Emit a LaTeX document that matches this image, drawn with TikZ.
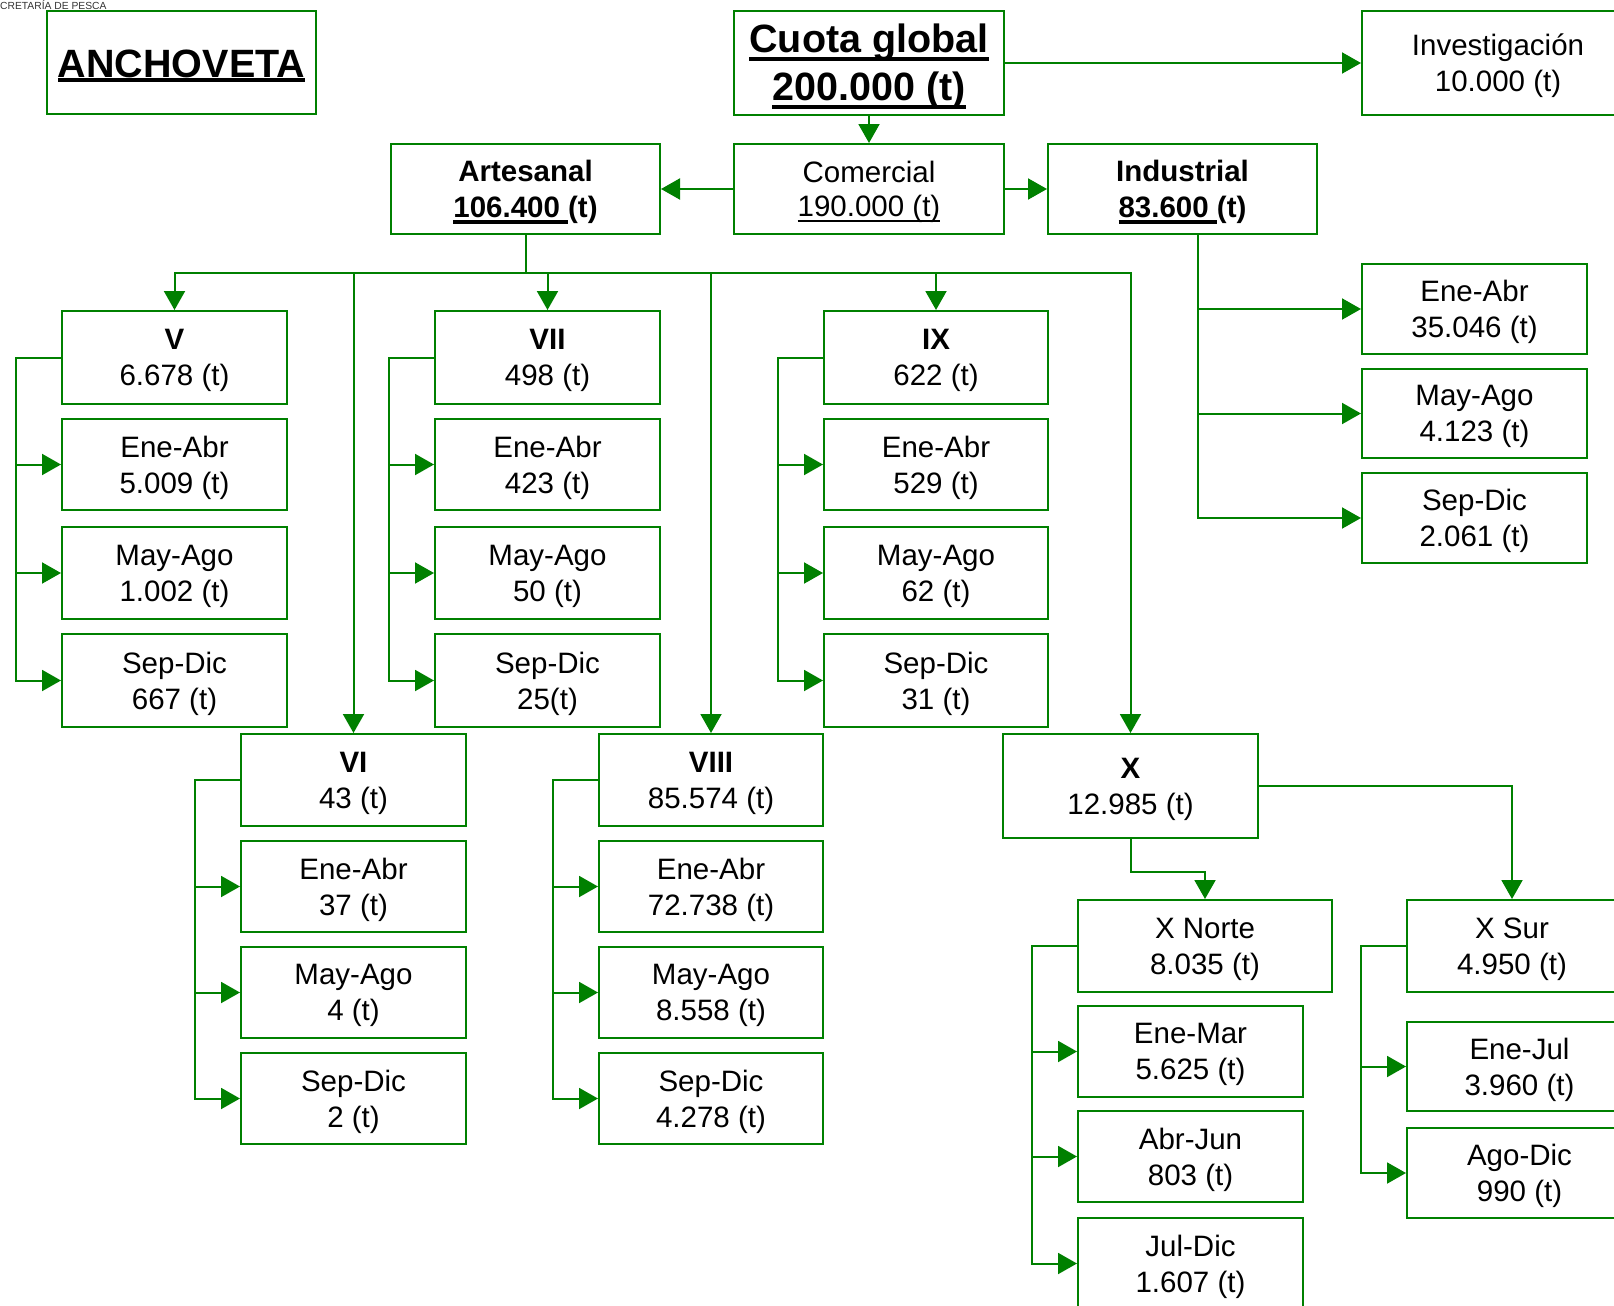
\documentclass[tikz,border=0pt]{standalone}
\usepackage{fontspec}
\setmainfont{Liberation Sans}
\usetikzlibrary{arrows.meta}
\definecolor{gr}{RGB}{0,128,0}
\newcommand\myul[3]{\setbox0\hbox{#3}\rlap{\rule[-#1pt]{\wd0}{#2pt}}\box0}
\tikzset{
  box/.style={draw=gr, line width=2pt, inner sep=0pt},
  txt/.style={inner sep=0pt, align=center, text=black, font=\fontsize{29.5}{36}\selectfont},
  big/.style={font=\fontsize{39.5}{48}\selectfont\bfseries},
  arr/.style={draw=gr, line width=2pt, -{Triangle[length=19pt,width=21pt]}},
  ln/.style={draw=gr, line width=2pt},
}
\newcommand\mybox[7]{%
  \node[box,minimum width={#5-#3},minimum height={#6-#4}] (#1) at ({(#3+#5)/2},{(#4+#6)/2}) {};
  \node[txt,#2] (#1-t) at ([yshift=-3pt]#1.center) {#7};}
\begin{document}
\begin{tikzpicture}[x=1pt,y=-1pt]
\useasboundingbox (0,0) rectangle (1614,1306);
\clip (0,0) rectangle (1614,1306);
\fill[white] (0,0) rectangle (1614,1306);
\node[anchor=base west, inner sep=0pt, text=black!80, font=\fontsize{10.3}{11}\selectfont] (sec) at (0,9.5) {CRETARÍA DE PESCA};
% top row
\mybox{anch}{big}{47}{11}{316}{114}{\myul{4.5}{4}{ANCHOVETA}}
\mybox{cuota}{big}{734}{11}{1004}{115}{\myul{8.5}{3.8}{Cuota global}\\\myul{8.5}{3.8}{200.000 (t)}}
\mybox{inv}{}{1362}{11}{1634}{115}{Investigación\\10.000 (t)}
% second row
\mybox{art}{}{391}{144}{660}{234}{\textbf{Artesanal}\\\textbf{\myul{6.5}{4}{106.400\ }(t)}}
\mybox{com}{font=\fontsize{29.5}{34}\selectfont}{734}{144}{1004}{234}{Comercial\\\myul{5.5}{2}{190.000 (t)}}
\mybox{ind}{}{1048}{144}{1317}{234}{\textbf{Industrial}\\\textbf{\myul{6.5}{4}{83.600\ }(t)}}
% industrial subs
\mybox{ia}{}{1362}{264}{1587}{354}{Ene-Abr\\35.046 (t)}
\mybox{ib}{}{1362}{369}{1587}{458}{May-Ago\\4.123 (t)}
\mybox{ic}{}{1362}{473}{1587}{563}{Sep-Dic\\2.061 (t)}
% V column
\mybox{nV}{}{62}{311}{287}{404}{\textbf{V}\\6.678 (t)}
\mybox{nVa}{}{62}{419}{287}{510}{Ene-Abr\\5.009 (t)}
\mybox{nVb}{}{62}{527}{287}{619}{May-Ago\\1.002 (t)}
\mybox{nVc}{}{62}{634}{287}{727}{Sep-Dic\\667 (t)}
% VII column
\mybox{nVII}{}{435}{311}{660}{404}{\textbf{VII}\\498 (t)}
\mybox{nVIIa}{}{435}{419}{660}{510}{Ene-Abr\\423 (t)}
\mybox{nVIIb}{}{435}{527}{660}{619}{May-Ago\\50 (t)}
\mybox{nVIIc}{}{435}{634}{660}{727}{Sep-Dic\\25(t)}
% IX column
\mybox{nIX}{}{824}{311}{1048}{404}{\textbf{IX}\\622 (t)}
\mybox{nIXa}{}{824}{419}{1048}{510}{Ene-Abr\\529 (t)}
\mybox{nIXb}{}{824}{527}{1048}{619}{May-Ago\\62 (t)}
\mybox{nIXc}{}{824}{634}{1048}{727}{Sep-Dic\\31 (t)}
% VI column
\mybox{nVI}{}{241}{734}{466}{826}{\textbf{VI}\\43 (t)}
\mybox{nVIa}{}{241}{841}{466}{932}{Ene-Abr\\37 (t)}
\mybox{nVIb}{}{241}{947}{466}{1038}{May-Ago\\4 (t)}
\mybox{nVIc}{}{241}{1053}{466}{1144}{Sep-Dic\\2 (t)}
% VIII column
\mybox{nVIII}{}{599}{734}{823}{826}{\textbf{VIII}\\85.574 (t)}
\mybox{nVIIIa}{}{599}{841}{823}{932}{Ene-Abr\\72.738 (t)}
\mybox{nVIIIb}{}{599}{947}{823}{1038}{May-Ago\\8.558 (t)}
\mybox{nVIIIc}{}{599}{1053}{823}{1144}{Sep-Dic\\4.278 (t)}
% X
\mybox{nX}{}{1003}{734}{1258}{838}{\textbf{X}\\12.985 (t)}
\mybox{xn}{}{1078}{900}{1332}{992}{X Norte\\8.035 (t)}
\mybox{xna}{}{1078}{1006}{1303}{1097}{Ene-Mar\\5.625 (t)}
\mybox{xnb}{}{1078}{1111}{1303}{1202}{Abr-Jun\\803 (t)}
\mybox{xnc}{}{1078}{1218}{1303}{1309}{Jul-Dic\\1.607 (t)}
\mybox{xs}{}{1407}{900}{1617}{992}{X Sur\\4.950 (t)}
\mybox{xsa}{}{1407}{1022}{1632}{1111}{Ene-Jul\\3.960 (t)}
\mybox{xsb}{}{1407}{1128}{1632}{1218}{Ago-Dic\\990 (t)}
% connectors top
\draw[arr] (cuota.south) -- (com.north);
\draw[arr] (cuota.east) -- (inv.west);
\draw[arr] (com.west) -- (art.east);
\draw[arr] (com.east) -- (ind.west);
% artesanal bus
\coordinate (bus) at (525.5,273);
\foreach \t in {nV,nVI,nVII,nVIII,nIX,nX}
  \draw[arr] (art.south) -- (bus) -| (\t.north);
% industrial
\coordinate (indj) at (1198,234);
\foreach \t in {ia,ib,ic}
  \draw[arr] (indj) |- (\t.west);
% brackets
\foreach \p/\s in {nV/nVa,nV/nVb,nV/nVc,nVII/nVIIa,nVII/nVIIb,nVII/nVIIc,nIX/nIXa,nIX/nIXb,nIX/nIXc,nVI/nVIa,nVI/nVIb,nVI/nVIc,nVIII/nVIIIa,nVIII/nVIIIb,nVIII/nVIIIc,xn/xna,xn/xnb,xn/xnc,xs/xsa,xs/xsb}
  \draw[arr] (\p.west) -- ++(-45,0) |- (\s.west);
% X branches
\draw[arr] (nX.south) -- ++(0,33) -| (xn.north);
\draw[arr] (nX.east) -| (xs.north);
\end{tikzpicture}
\end{document}
